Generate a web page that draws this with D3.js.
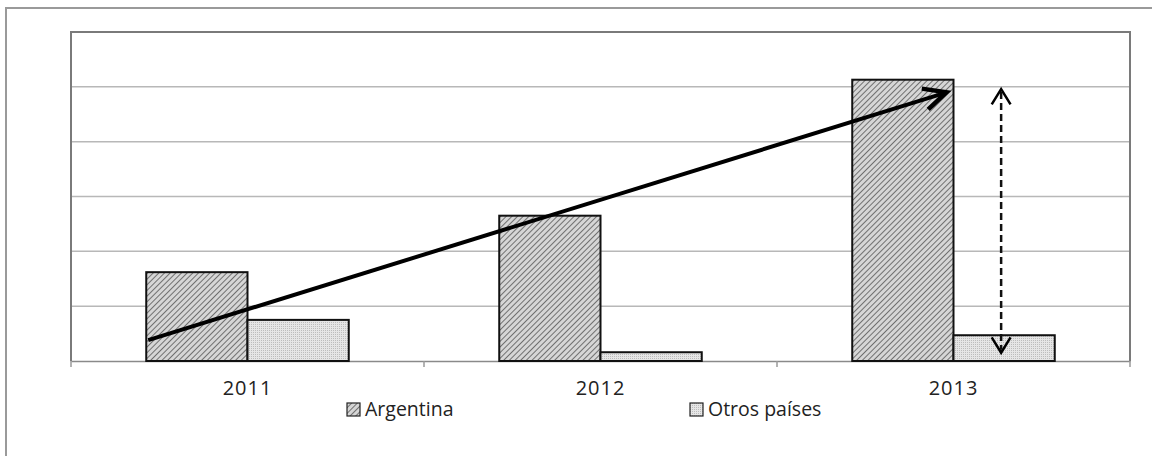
<!DOCTYPE html>
<html>
<head>
<meta charset="utf-8">
<script src="https://cdn.jsdelivr.net/npm/d3@7"></script>
<style>
  html, body { margin: 0; padding: 0; background: #fff; }
  svg { display: block; }
  text { font-family: "Open Sans", "Liberation Sans", sans-serif; fill: #222; }
</style>
</head>
<body>
<svg id="chart" width="1152" height="456"></svg>
<script>
// Exports by destination, per year (units on a 0–6 grid)
const years = ["2011", "2012", "2013"];
const argentina = [1.62, 2.65, 5.13];
const otrosPaises = [0.75, 0.16, 0.47];
const seriesNames = ["Argentina", "Otros países"];
const gridValues = [0, 1, 2, 3, 4, 5, 6];

// Annotations: growth trend arrow and gap arrow (year, value)
const trendStart = { year: "2011", value: 0.38 };
const trendEnd = { year: "2013", value: 4.9 };
const gapTop = 4.96;
const gapBottom = 0.15;

const svg = d3.select("#chart");
const W = 1152, H = 456;
const margin = { left: 71, top: 32, right: 22, bottom: 95 };
const plotW = W - margin.left - margin.right;
const plotH = H - margin.top - margin.bottom;

// outer frame (top and left edges)
svg.append("path")
  .attr("d", `M6,${H} L6,8 L${W},8`)
  .attr("fill", "none").attr("stroke", "#9a9a9a").attr("stroke-width", 2);

const defs = svg.append("defs");
const hatch = defs.append("pattern")
  .attr("id", "hatch").attr("patternUnits", "userSpaceOnUse")
  .attr("width", 4).attr("height", 4)
  .attr("patternTransform", "rotate(45)");
hatch.append("rect").attr("width", 4).attr("height", 4).attr("fill", "#d6d6d6");
hatch.append("line").attr("x1", 0).attr("y1", 0).attr("x2", 0).attr("y2", 4)
  .attr("stroke", "#5e5e5e").attr("stroke-width", 1.7);

const dots = defs.append("pattern")
  .attr("id", "dots").attr("patternUnits", "userSpaceOnUse")
  .attr("width", 2).attr("height", 2);
dots.append("rect").attr("width", 2).attr("height", 2).attr("fill", "#e6e6e6");
dots.append("rect").attr("width", 1).attr("height", 1).attr("fill", "#bdbdbd");

const g = svg.append("g").attr("transform", `translate(${margin.left},${margin.top})`);

const x0 = d3.scaleBand().domain(years).range([0, plotW]).paddingInner(0).paddingOuter(0);
const x1 = d3.scaleBand().domain(seriesNames).range([0, x0.bandwidth()]).paddingInner(0).paddingOuter(0.743);
const y = d3.scaleLinear().domain([0, 6]).range([plotH, 0]);

// gridlines
g.append("g").selectAll("line").data(gridValues.filter(v => v > 0 && v < 6)).join("line")
  .attr("x1", 0).attr("x2", plotW)
  .attr("y1", d => y(d)).attr("y2", d => y(d))
  .attr("stroke", "#b8b8b8").attr("stroke-width", 1.5);

// plot area frame: top, left, right
g.append("path")
  .attr("d", `M0,${plotH} L0,0 L${plotW},0 L${plotW},${plotH}`)
  .attr("fill", "none").attr("stroke", "#7a7a7a").attr("stroke-width", 2);

// x axis
const xAxis = d3.axisBottom(x0).tickSize(0);
const ax = g.append("g").attr("transform", `translate(0,${plotH})`).call(xAxis);
ax.select(".domain").attr("stroke", "#8a8a8a").attr("stroke-width", 1.5);
ax.selectAll(".tick text")
  .attr("y", 34).attr("dy", 0)
  .style("font-size", "20px").style("letter-spacing", "1px")
  .style("font-family", "'Open Sans', sans-serif")
  .attr("fill", "#222");
// category separators
ax.append("g").selectAll("line").data(d3.range(years.length + 1)).join("line")
  .attr("x1", i => i * x0.step()).attr("x2", i => i * x0.step())
  .attr("y1", 0).attr("y2", 6)
  .attr("stroke", "#9a9a9a").attr("stroke-width", 1.5);

// bars
const rows = years.map((yr, i) => ({ year: yr, values: [argentina[i], otrosPaises[i]] }));
const fills = ["url(#hatch)", "url(#dots)"];
const groups = g.append("g").selectAll("g").data(rows).join("g")
  .attr("transform", d => `translate(${x0(d.year)},0)`);
groups.selectAll("rect").data(d => d.values.map((v, k) => ({ k, v }))).join("rect")
  .attr("x", d => x1(seriesNames[d.k]))
  .attr("width", x1.bandwidth())
  .attr("y", d => y(d.v))
  .attr("height", d => plotH - y(d.v))
  .attr("fill", d => fills[d.k])
  .attr("stroke", "#111").attr("stroke-width", 2);

// trend arrow
const tx1 = x0(trendStart.year) + x1("Argentina") + 2;
const ty1 = y(trendStart.value);
const tx2 = x0(trendEnd.year) + x1("Argentina") + x1.bandwidth() - 7;
const ty2 = y(trendEnd.value);
g.append("line")
  .attr("x1", tx1).attr("y1", ty1).attr("x2", tx2 - 3).attr("y2", ty2 + 1)
  .attr("stroke", "#000").attr("stroke-width", 4);
function chevron(xTip, yTip, angle, len, spread, width) {
  const a1 = angle + Math.PI - spread, a2 = angle + Math.PI + spread;
  const p = d3.path();
  p.moveTo(xTip + len * Math.cos(a1), yTip + len * Math.sin(a1));
  p.lineTo(xTip, yTip);
  p.lineTo(xTip + len * Math.cos(a2), yTip + len * Math.sin(a2));
  g.append("path").attr("d", p.toString()).attr("fill", "none")
    .attr("stroke", "#000").attr("stroke-width", width)
    .attr("stroke-linejoin", "miter").attr("stroke-linecap", "butt");
}
chevron(tx2, ty2, Math.atan2(ty2 - ty1, tx2 - tx1), 25, 0.45, 4.5);

// gap arrow (dashed, both ends)
const gx = x0("2013") + x1("Otros países") + x1.bandwidth() / 2 - 3;
const gy1 = y(gapTop), gy2 = y(gapBottom);
g.append("line")
  .attr("x1", gx).attr("x2", gx).attr("y1", gy1 + 3).attr("y2", gy2 - 3)
  .attr("stroke", "#111").attr("stroke-width", 2.5).attr("stroke-dasharray", "7,4");
chevron(gx, gy1, -Math.PI / 2, 18, 0.55, 2.5);
chevron(gx, gy2, Math.PI / 2, 18, 0.55, 2.5);

// legend
const legend = svg.append("g").attr("transform", `translate(0,409)`);
const legendX = [347, 690];
seriesNames.forEach((name, k) => {
  legend.append("rect").attr("x", legendX[k]).attr("y", -6).attr("width", 13).attr("height", 13)
    .attr("fill", fills[k]).attr("stroke", "#222").attr("stroke-width", 1.2);
  legend.append("text").attr("x", legendX[k] + 18).attr("y", 0).attr("dy", "0.35em")
    .style("font-size", "19.5px").text(name);
});
</script>
</body>
</html>
